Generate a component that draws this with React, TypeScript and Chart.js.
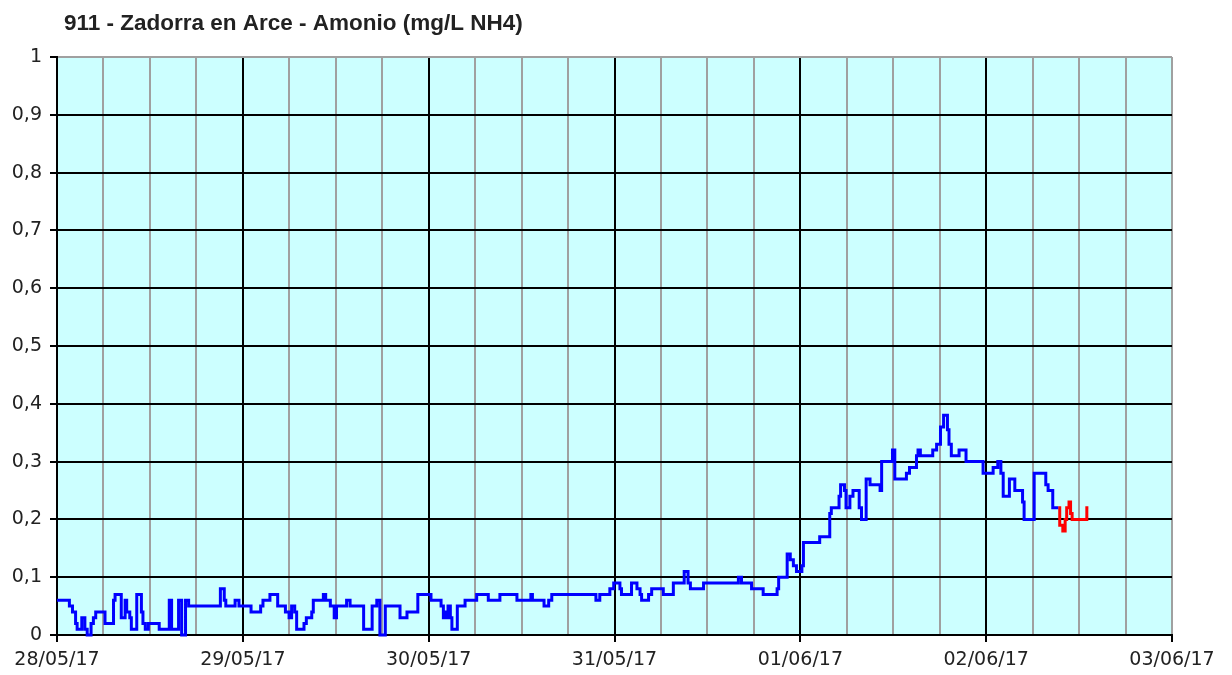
import React, { useEffect, useRef } from "react";
import { Chart, registerables } from "chart.js";

Chart.register(...registerables);

const chartTitle = "911 - Zadorra en Arce - Amonio (mg/L NH4)";

// x: hours since 28/05/17 00:00
const xTickLabels = ["28/05/17", "29/05/17", "30/05/17", "31/05/17", "01/06/17", "02/06/17", "03/06/17"];
const yTickLabels = ["0", "0,1", "0,2", "0,3", "0,4", "0,5", "0,6", "0,7", "0,8", "0,9", "1"];

// Blue series: time (h) at which the value changes, and the new value
const blueHours = [
  0, 1.6, 2.0, 2.4, 2.6, 3.2, 3.6, 3.9, 4.4, 4.7, 5.0, 6.2, 7.3, 7.5, 8.3, 8.8, 9.0, 9.4, 9.6, 10.3,
  10.9, 11.1, 11.4, 11.8, 13.2, 14.5, 14.8, 15.7, 16.1, 16.6, 17.0, 21.1, 21.6, 21.8, 23.0, 23.5,
  25.06, 26.3, 26.6, 27.5, 28.5, 29.5, 29.97, 30.3, 30.7, 30.95, 31.9, 32.2, 32.9, 33.1, 34.4, 34.7,
  35.3, 35.8, 36.1, 37.4, 37.85, 39.6, 40.7, 41.3, 41.7, 42.4, 44.3, 45.2,
  46.6, 48.3, 49.6, 49.9, 50.1, 50.3, 50.5, 50.8, 51.0, 51.7, 52.7, 54.2, 55.7, 57.2, 59.4, 61.2,
  61.4, 62.9, 63.5, 63.9, 69.6, 70.1, 71.4, 71.9, 72.7, 72.9, 74.2, 74.9, 75.3, 75.5, 76.4, 76.8,
  78.3, 79.6, 81.0, 81.5, 81.8, 83.5, 88.0, 88.4, 89.7, 91.2,
  93.0, 93.2, 94.3, 94.7, 95.1, 95.5, 96.2, 96.4, 98.5, 99.8, 100.0, 101.0, 101.2, 101.7, 101.9,
  102.4, 102.8, 103.6, 103.9, 104.5, 105.0, 106.3, 106.5, 107.9, 108.2, 109.7, 110.1, 111.0, 111.2,
  111.5, 113.1, 113.6, 114.1, 114.5, 115.0, 115.2, 115.5, 116.5, 117.4, 119.6, 120.9, 121.5, 121.9,
  122.2, 123.0, 123.7, 124.7, 124.9, 126.2, 127.7, 128.0, 128.6, 129.3,
];
const blueValues = [
  0.06, 0.05, 0.04, 0.02, 0.01, 0.03, 0.01, 0.0, 0.02, 0.03, 0.04, 0.02, 0.06, 0.07, 0.03, 0.06, 0.04, 0.03, 0.01, 0.07,
  0.04, 0.02, 0.01, 0.02, 0.01, 0.06, 0.01, 0.06, 0.0, 0.06, 0.05, 0.08, 0.06, 0.05, 0.06, 0.05,
  0.04, 0.05, 0.06, 0.07, 0.05, 0.04, 0.03, 0.05, 0.04, 0.01, 0.02, 0.03, 0.04, 0.06, 0.07, 0.06,
  0.05, 0.03, 0.05, 0.06, 0.05, 0.01, 0.05, 0.06, 0.0, 0.05, 0.03, 0.04,
  0.07, 0.06, 0.05, 0.03, 0.04, 0.03, 0.05, 0.03, 0.01, 0.05, 0.06, 0.07, 0.06, 0.07, 0.06, 0.07,
  0.06, 0.05, 0.06, 0.07, 0.06, 0.07, 0.08, 0.09, 0.08, 0.07, 0.09, 0.08, 0.07, 0.06, 0.07, 0.08,
  0.07, 0.09, 0.11, 0.09, 0.08, 0.09, 0.1, 0.09, 0.08, 0.07,
  0.08, 0.1, 0.14, 0.13, 0.12, 0.11, 0.12, 0.16, 0.17, 0.21, 0.22, 0.24, 0.26, 0.25, 0.22,
  0.24, 0.25, 0.22, 0.2, 0.27, 0.26, 0.25, 0.3, 0.32, 0.27, 0.28, 0.29, 0.31, 0.32,
  0.31, 0.32, 0.33, 0.36, 0.38, 0.355, 0.33, 0.31, 0.32, 0.3, 0.28, 0.29, 0.3, 0.28,
  0.24, 0.27, 0.25, 0.23, 0.2, 0.28, 0.26, 0.25, 0.22, 0.22,
];

// Red series
const redHours = [129.3, 129.5, 129.9, 130.2, 130.4, 130.7, 130.9, 131.1, 133.0, 133.2];
const redValues = [0.22, 0.19, 0.18, 0.2, 0.22, 0.23, 0.21, 0.2, 0.22, 0.22];

const toPoints = (xs: number[], ys: number[]) => xs.map((x, i) => ({ x, y: ys[i] }));

const bgPlugin = {
  id: "plotBg",
  beforeDraw(chart: any) {
    const { ctx, chartArea } = chart;
    ctx.save();
    ctx.fillStyle = "#CCFFFF";
    ctx.fillRect(chartArea.left, chartArea.top, chartArea.right - chartArea.left, chartArea.bottom - chartArea.top);
    ctx.restore();
  },
};

const titlePlugin = {
  id: "leftTitle",
  afterDraw(chart: any) {
    const { ctx } = chart;
    ctx.save();
    ctx.fillStyle = "#222";
    ctx.font = "bold 22.5px 'Liberation Sans', Arial, sans-serif";
    ctx.textBaseline = "alphabetic";
    ctx.textAlign = "left";
    ctx.fillText(chartTitle, 64, 30);
    ctx.restore();
  },
};

export default function App() {
  const ref = useRef<HTMLCanvasElement | null>(null);
  useEffect(() => {
    document.body.style.margin = "0";
    const canvas = ref.current;
    if (!canvas) return;
    const font = { family: "'DejaVu Sans', Verdana, sans-serif", size: 19 };
    const chart = new Chart(canvas, {
      type: "line",
      data: {
        datasets: [
          {
            data: toPoints(blueHours, blueValues),
            borderColor: "#0000FF",
            borderWidth: 3,
            pointRadius: 0,
            stepped: true,
            fill: false,
            clip: 4,
          },
          {
            data: toPoints(redHours, redValues),
            borderColor: "#FF0000",
            borderWidth: 3,
            pointRadius: 0,
            stepped: true,
            fill: false,
            clip: 4,
          },
        ],
      },
      options: {
        responsive: false,
        animation: false,
        parsing: false,
        layout: { padding: { top: 57, right: 60, left: 0, bottom: 0 } },
        plugins: { legend: { display: false }, tooltip: { enabled: false }, title: { display: false } },
        scales: {
          x: {
            type: "linear",
            min: 0,
            max: 144,
            afterBuildTicks: (scale: any) => {
              const t = [];
              for (let h = 0; h <= 144; h += 6) t.push({ value: h });
              scale.ticks = t;
            },
            afterFit: (scale: any) => {
              scale.height = 40;
            },
            ticks: {
              autoSkip: false,
              maxRotation: 0,
              padding: 7,
              color: "#222",
              font,
              callback: (v: any) => (Number(v) % 24 === 0 ? xTickLabels[Number(v) / 24] : ""),
            },
            grid: {
              color: (ctx: any) => {
                const v = ctx.tick ? ctx.tick.value : 0;
                return v % 24 === 0 && v !== 144 ? "#000000" : "#A0A0A0";
              },
              tickColor: (ctx: any) => {
                const v = ctx.tick ? ctx.tick.value : 0;
                return v % 24 === 0 ? "#000000" : "rgba(0,0,0,0)";
              },
              lineWidth: 2,
              tickLength: 7,
            },
            border: { color: "#000000", width: 2 },
          },
          y: {
            min: 0,
            max: 1,
            afterBuildTicks: (scale: any) => {
              scale.ticks = yTickLabels.map((_, i) => ({ value: i / 10 }));
            },
            afterFit: (scale: any) => {
              scale.width = 57;
            },
            ticks: {
              autoSkip: false,
              padding: 8,
              color: "#222",
              font,
              callback: (v: any) => yTickLabels[Math.round(Number(v) * 10)],
            },
            grid: {
              color: (ctx: any) => {
                const v = ctx.tick ? ctx.tick.value : 0;
                return v >= 0.999 ? "#A0A0A0" : "#000000";
              },
              tickColor: "#000000",
              lineWidth: 2,
              tickLength: 7,
            },
            border: { color: "#000000", width: 2 },
          },
        },
      },
      plugins: [bgPlugin, titlePlugin],
    } as any);
    return () => chart.destroy();
  }, []);
  return <canvas ref={ref} width={1232} height={675} style={{ display: "block", width: 1232, height: 675 }} />;
}
